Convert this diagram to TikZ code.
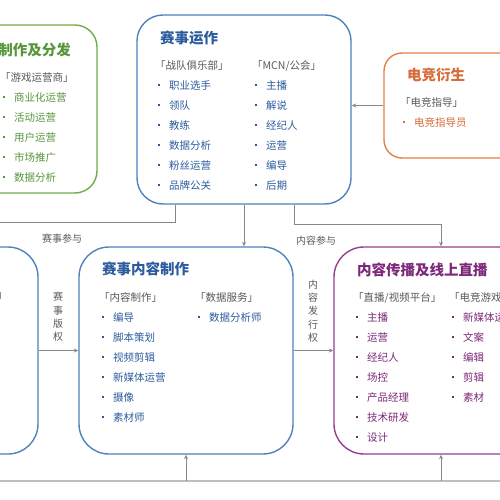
\documentclass[tikz,border=0pt]{standalone}
\usepackage{fontspec}
\newfontfamily\cjk{Noto Sans CJK SC}
\usepackage{xcolor}
\usepackage{tikz}
\usetikzlibrary{arrows.meta, positioning}
\definecolor{azul}{RGB}{79,129,189}
\definecolor{azultxt}{RGB}{44,92,158}
\definecolor{verde}{RGB}{112,173,71}
\definecolor{verdetxt}{RGB}{88,150,58}
\definecolor{naranja}{RGB}{226,128,74}
\definecolor{naranjatxt}{RGB}{214,108,58}
\definecolor{morado}{RGB}{150,60,145}
\definecolor{moradotxt}{RGB}{125,40,122}
\definecolor{gristxt}{RGB}{89,89,89}
\definecolor{conector}{RGB}{135,135,135}
\definecolor{base}{RGB}{190,190,190}
\newcommand{\punto}{\hspace*{3pt}\makebox[11pt][l]{\raisebox{2.8pt}{\rule{2.2pt}{2.2pt}}}}
\newcommand{\cab}[1]{\textcolor{gristxt}{#1}}
\tikzset{
  caja/.style={rectangle, rounded corners=26pt, line width=1.4pt, fill=white,
    inner sep=0pt},
  titulo/.style={font=\cjk\bfseries\fontsize{14.5}{16}\selectfont, anchor=west,
    inner sep=0pt},
  lista/.style={font=\cjk\fontsize{10.5}{20}\selectfont, anchor=north west,
    align=left, inner sep=0pt},
  flecha/.style={-{Stealth[length=4.5pt, width=4pt]}, line width=0.9pt, color=conector},
  linea/.style={line width=2.2pt, color=base},
  etiq/.style={font=\cjk\fontsize{10}{13.3}\selectfont, color=gristxt, align=center,
    inner sep=0pt}
}
\begin{document}
\begin{tikzpicture}[x=1pt, y=-1pt]
  \useasboundingbox (0,0) rectangle (500,500);
  \clip (0,0) rectangle (500,500);
  % cajas
  \node[caja, draw=verde, rounded corners=22pt, minimum width=217pt, minimum height=168pt] (produccion) at (-11.5,109) {};
  \node[caja, draw=azul, minimum width=214pt, minimum height=189pt] (operacion) at (244,109.5) {};
  \node[caja, draw=naranja, rounded corners=18pt, minimum width=216pt, minimum height=105pt] (derivados) at (492,105.5) {};
  \node[caja, draw=azul, rounded corners=30pt, minimum width=214pt, minimum height=207pt] (izquierda) at (-69,350.5) {};
  \node[caja, draw=azul, rounded corners=30pt, minimum width=214pt, minimum height=207pt] (contenido) at (186,350.5) {};
  \node[caja, draw=morado, rounded corners=30pt, minimum width=214pt, minimum height=207pt] (difusion) at (441,350.5) {};
  % titulos
  \node[titulo, anchor=east, text=verdetxt] (tprod) at (71,50) {制作及分发};
  \node[titulo, text=azultxt] (toper) at (160,38) {赛事运作};
  \node[titulo, text=naranjatxt] (tderiv) at (407,75) {电竞衍生};
  \node[titulo, text=azultxt] (tcont) at (102,269) {赛事内容制作};
  \node[titulo, text=moradotxt] (tdif) at (357,270) {内容传播及线上直播};
  % listas
  \node[lista, text=verdetxt] (lprod) at (0,72) {\cab{「游戏运营商」}\\\punto 商业化运营\\\punto 活动运营\\\punto 用户运营\\\punto 市场推广\\\punto 数据分析};
  \node[lista, text=azultxt] (lclub) at (155,60) {\cab{「战队俱乐部」}\\\punto 职业选手\\\punto 领队\\\punto 教练\\\punto 数据分析\\\punto 粉丝运营\\\punto 品牌公关};
  \node[lista, text=azultxt] (lmcn) at (252,60) {\cab{「MCN/公会」}\\\punto 主播\\\punto 解说\\\punto 经纪人\\\punto 运营\\\punto 编导\\\punto 后期};
  \node[lista, text=naranjatxt] (lderiv) at (400,97) {\cab{「电竞指导」}\\\punto 电竞指导员};
  \node[lista, text=gristxt] (lizq) at (-3,292) {」};
  \node[lista, text=azultxt] (lcont) at (99,292) {\cab{「内容制作」}\\\punto 编导\\\punto 脚本策划\\\punto 视频剪辑\\\punto 新媒体运营\\\punto 摄像\\\punto 素材师};
  \node[lista, text=azultxt] (ldatos) at (195,292) {\cab{「数据服务」}\\\punto 数据分析师};
  \node[lista, text=moradotxt] (lplat) at (353,292) {\cab{「直播/视频平台」}\\\punto 主播\\\punto 运营\\\punto 经纪人\\\punto 场控\\\punto 产品经理\\\punto 技术研发\\\punto 设计};
  \node[lista, text=moradotxt] (lmedios) at (449,292) {\cab{「电竞游戏」}\\\punto 新媒体运营\\\punto 文案\\\punto 编辑\\\punto 剪辑\\\punto 素材};
  % conectores
  \coordinate (baseizq) at (-10,481);
  \coordinate (baseder) at (510,481);
  \draw[linea] (baseizq) -- (baseder);
  \draw[flecha] (contenido.south |- baseizq) -- (contenido.south);
  \draw[flecha] (difusion.south |- baseizq) -- (difusion.south);
  \draw[flecha] (derivados.west) -- (derivados.west -| operacion.east);
  \draw[flecha] (operacion.south) -- (operacion.south |- contenido.north);
  \draw[flecha] ([xshift=50pt]operacion.south) -- ++(0,20) -| (difusion.north);
  \draw[flecha] ([xshift=-69pt]operacion.south) -- ++(0,18) -| (izquierda.north);
  \draw[flecha] (izquierda.east) -- (contenido.west);
  \draw[flecha] (contenido.east) -- (difusion.west);
  % etiquetas
  \node[etiq] (eparticipa) at (62,239) {赛事参与};
  \node[etiq] (econtenido) at (316,241) {内容参与};
  \node[etiq] (ederechos) at (58,317) {赛\\事\\版\\权};
  \node[etiq] (edifusion) at (313,311) {内\\容\\发\\行\\权};
\end{tikzpicture}
\end{document}
